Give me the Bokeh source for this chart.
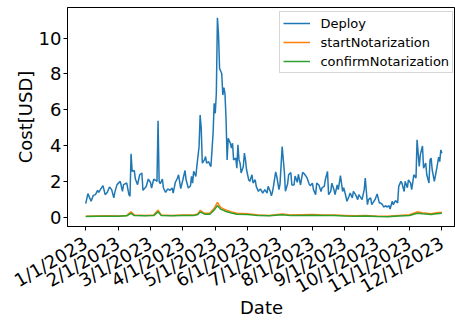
from bokeh.plotting import figure
from bokeh.models import Range1d, FixedTicker, Legend, LegendItem
from bokeh.embed import file_html
from bokeh.resources import INLINE
import math

tick_days = [0, 30, 60, 90, 120, 150, 180, 210, 240, 270, 300, 330]
tick_labels = ["1/1/2023", "2/1/2023", "3/1/2023", "4/1/2023", "5/1/2023", "6/1/2023",
               "7/1/2023", "8/1/2023", "9/1/2023", "10/1/2023", "11/1/2023", "12/1/2023"]
y_ticks = [0, 2, 4, 6, 8, 10]

deploy_day = [0, 2, 5, 7, 9, 11, 12, 14, 16, 18, 20, 22, 24, 26, 27, 29, 32, 34, 35, 38,
              40, 41, 42, 43, 45, 46, 48, 50, 52, 53, 56, 58, 60, 61, 63, 65, 66, 67, 68, 69,
              71, 72, 74, 76, 78, 80, 81, 83, 85, 86, 88, 90, 92, 93, 95, 97, 98, 99, 100, 102,
              103, 105, 106, 107, 108, 110, 111, 112, 114, 115, 116, 118, 119, 120, 121, 122, 123, 124, 126, 127,
              128, 129, 130, 131, 132, 134, 135, 136, 137, 139, 140, 141, 142, 143, 144, 146, 147, 148, 149, 151,
              152, 154, 155, 157, 158, 160, 161, 162, 164, 166, 168, 169, 171, 172, 173, 174, 176, 177, 179, 180,
              182, 184, 185, 187, 188, 190, 191, 193, 194, 196, 197, 199, 201, 202, 204, 205, 207, 208, 210, 211,
              213, 214, 216, 218, 219, 221, 222, 224, 225, 227, 228, 230, 231, 233, 234, 236, 238, 239, 241, 242,
              244, 245, 247, 248, 250, 252, 253, 255, 256, 258, 259, 261, 262, 264, 265, 267, 268, 270, 272, 273,
              275, 276, 278, 279, 281, 282, 284, 285, 287, 289, 290, 292, 293, 295, 296, 298, 299, 301, 302, 304,
              306, 307, 309, 310, 312, 313, 315, 316, 318, 319, 320, 321, 323, 325, 327, 328, 329, 330]
deploy_cost = [0.76, 1.32, 0.89, 1.22, 1.26, 1.50, 1.39, 1.58, 1.76, 1.26, 1.39, 1.69, 1.54, 1.08, 1.40, 1.82, 2.00, 1.44, 1.82, 1.91,
               1.26, 1.17, 3.54, 2.56, 2.61, 2.13, 1.82, 2.37, 2.47, 1.50, 1.72, 2.13, 1.94, 1.63, 2.13, 2.06, 2.00, 5.39, 2.00, 1.87,
               2.13, 1.63, 1.39, 1.58, 1.50, 1.63, 1.35, 1.94, 2.19, 2.37, 1.60, 2.09, 2.61, 2.09, 1.63, 1.74, 2.28, 1.90, 2.56, 2.28,
               2.87, 3.94, 5.70, 4.96, 3.02, 3.20, 3.39, 3.02, 3.10, 2.93, 2.83, 4.69, 6.36, 5.80, 6.91, 11.13, 10.24, 8.30, 8.02, 6.82,
               7.24, 6.90, 5.50, 3.20, 4.41, 4.13, 3.86, 4.13, 3.20, 3.30, 2.74, 4.04, 3.20, 3.02, 2.47, 2.83, 3.58, 3.20, 2.65, 2.09,
               2.00, 2.37, 1.91, 2.09, 1.72, 1.44, 1.54, 1.57, 1.35, 1.54, 1.35, 1.72, 1.44, 1.20, 1.40, 1.75, 2.53, 2.28, 1.54, 1.85,
               3.94, 2.55, 1.45, 1.85, 2.37, 2.50, 1.80, 1.80, 2.30, 1.95, 2.40, 1.80, 2.50, 2.45, 2.30, 2.20, 1.85, 1.76, 1.90, 1.54,
               1.26, 1.90, 1.80, 1.44, 1.65, 1.72, 2.09, 2.56, 1.26, 1.44, 1.90, 1.54, 1.26, 1.80, 1.54, 2.32, 1.44, 1.65, 1.17, 0.89,
               1.17, 1.35, 1.08, 1.44, 1.26, 0.98, 1.26, 1.08, 0.98, 1.54, 2.19, 0.70, 0.98, 1.08, 0.70, 0.89, 0.98, 1.30, 0.80, 0.80,
               0.70, 0.57, 0.64, 0.57, 0.64, 0.46, 0.89, 0.70, 0.93, 0.80, 1.72, 2.00, 1.90, 1.44, 2.00, 1.65, 2.09, 1.90, 1.54, 2.37,
               2.19, 4.32, 2.83, 3.48, 3.98, 2.74, 3.02, 2.37, 1.91, 3.20, 3.30, 2.65, 2.00, 2.65, 3.35, 3.10, 3.76, 3.57]

notar_day = [0, 10, 20, 30, 38, 42, 45, 55, 63, 67, 70, 80, 90, 100, 104, 106, 110, 115, 119, 122,
             125, 130, 135, 140, 150, 160, 170, 182, 190, 200, 210, 220, 230, 240, 250, 260, 270, 280, 290, 300,
             307, 312, 320, 325, 330]
start_cost = [0.05, 0.07, 0.08, 0.07, 0.10, 0.30, 0.12, 0.10, 0.12, 0.40, 0.12, 0.10, 0.12, 0.12, 0.20, 0.38, 0.22, 0.22, 0.50, 0.83,
              0.55, 0.40, 0.30, 0.22, 0.20, 0.12, 0.10, 0.18, 0.12, 0.14, 0.15, 0.12, 0.12, 0.10, 0.08, 0.10, 0.06, 0.05, 0.10, 0.14,
              0.30, 0.25, 0.20, 0.25, 0.28]
confirm_cost = [0.04, 0.05, 0.06, 0.05, 0.08, 0.22, 0.09, 0.08, 0.09, 0.30, 0.09, 0.08, 0.09, 0.09, 0.15, 0.30, 0.17, 0.17, 0.40, 0.65,
                0.45, 0.32, 0.24, 0.17, 0.15, 0.09, 0.08, 0.14, 0.09, 0.10, 0.11, 0.09, 0.09, 0.07, 0.06, 0.07, 0.04, 0.03, 0.07, 0.10,
                0.22, 0.19, 0.15, 0.19, 0.22]

FONT = "DejaVu Sans"

p = figure(width=455, height=320, output_backend="svg", toolbar_location=None,
           x_range=Range1d(-16.9, 342.6), y_range=Range1d(-0.517, 11.706),
           min_border_left=67, min_border_right=0, min_border_top=7, min_border_bottom=93)

r1 = p.line(deploy_day, deploy_cost, line_color="#1f77b4", line_width=1.5)
r2 = p.line(notar_day, start_cost, line_color="#ff7f0e", line_width=1.5)
r3 = p.line(notar_day, confirm_cost, line_color="#2ca02c", line_width=1.5)

p.xgrid.grid_line_color = None
p.ygrid.grid_line_color = None
p.outline_line_color = "#000000"
p.outline_line_width = 1

p.xaxis.ticker = FixedTicker(ticks=tick_days)
p.xaxis.major_label_overrides = {d: s for d, s in zip(tick_days, tick_labels)}
p.xaxis.major_label_orientation = math.pi / 6
p.yaxis.ticker = FixedTicker(ticks=y_ticks)

for ax in (p.xaxis[0], p.yaxis[0]):
    ax.axis_line_color = "#000000"
    ax.axis_line_width = 1
    ax.major_tick_line_color = "#000000"
    ax.major_tick_in = 0
    ax.major_tick_out = 4
    ax.minor_tick_line_color = None
    ax.major_label_text_font = FONT
    ax.major_label_text_font_size = "18px"
    ax.major_label_text_color = "#000000"
    ax.axis_label_text_font = FONT
    ax.axis_label_text_font_size = "18px"
    ax.axis_label_text_font_style = "normal"
    ax.axis_label_text_color = "#000000"

p.xaxis.axis_label = "Date"
p.yaxis.axis_label = "Cost[USD]"
p.yaxis.major_label_standoff = 2
p.yaxis.axis_label_standoff = 0
p.xaxis.major_label_standoff = 11
p.xaxis.axis_label_standoff = -12

legend = Legend(items=[LegendItem(label="Deploy", renderers=[r1]),
                       LegendItem(label="startNotarization", renderers=[r2]),
                       LegendItem(label="confirmNotarization", renderers=[r3])],
                location=(212.4, 153))
legend.label_text_font = FONT
legend.label_text_font_size = "13px"
legend.label_text_color = "#000000"
legend.glyph_width = 27
legend.glyph_height = 16
legend.label_height = 16
legend.label_standoff = 10
legend.spacing = 3
legend.padding = 3
legend.margin = 0
legend.border_line_color = "#cccccc"
legend.border_line_alpha = 0.8
legend.background_fill_alpha = 0.8
p.add_layout(legend)

open("out.html", "w").write(file_html(p, INLINE))
